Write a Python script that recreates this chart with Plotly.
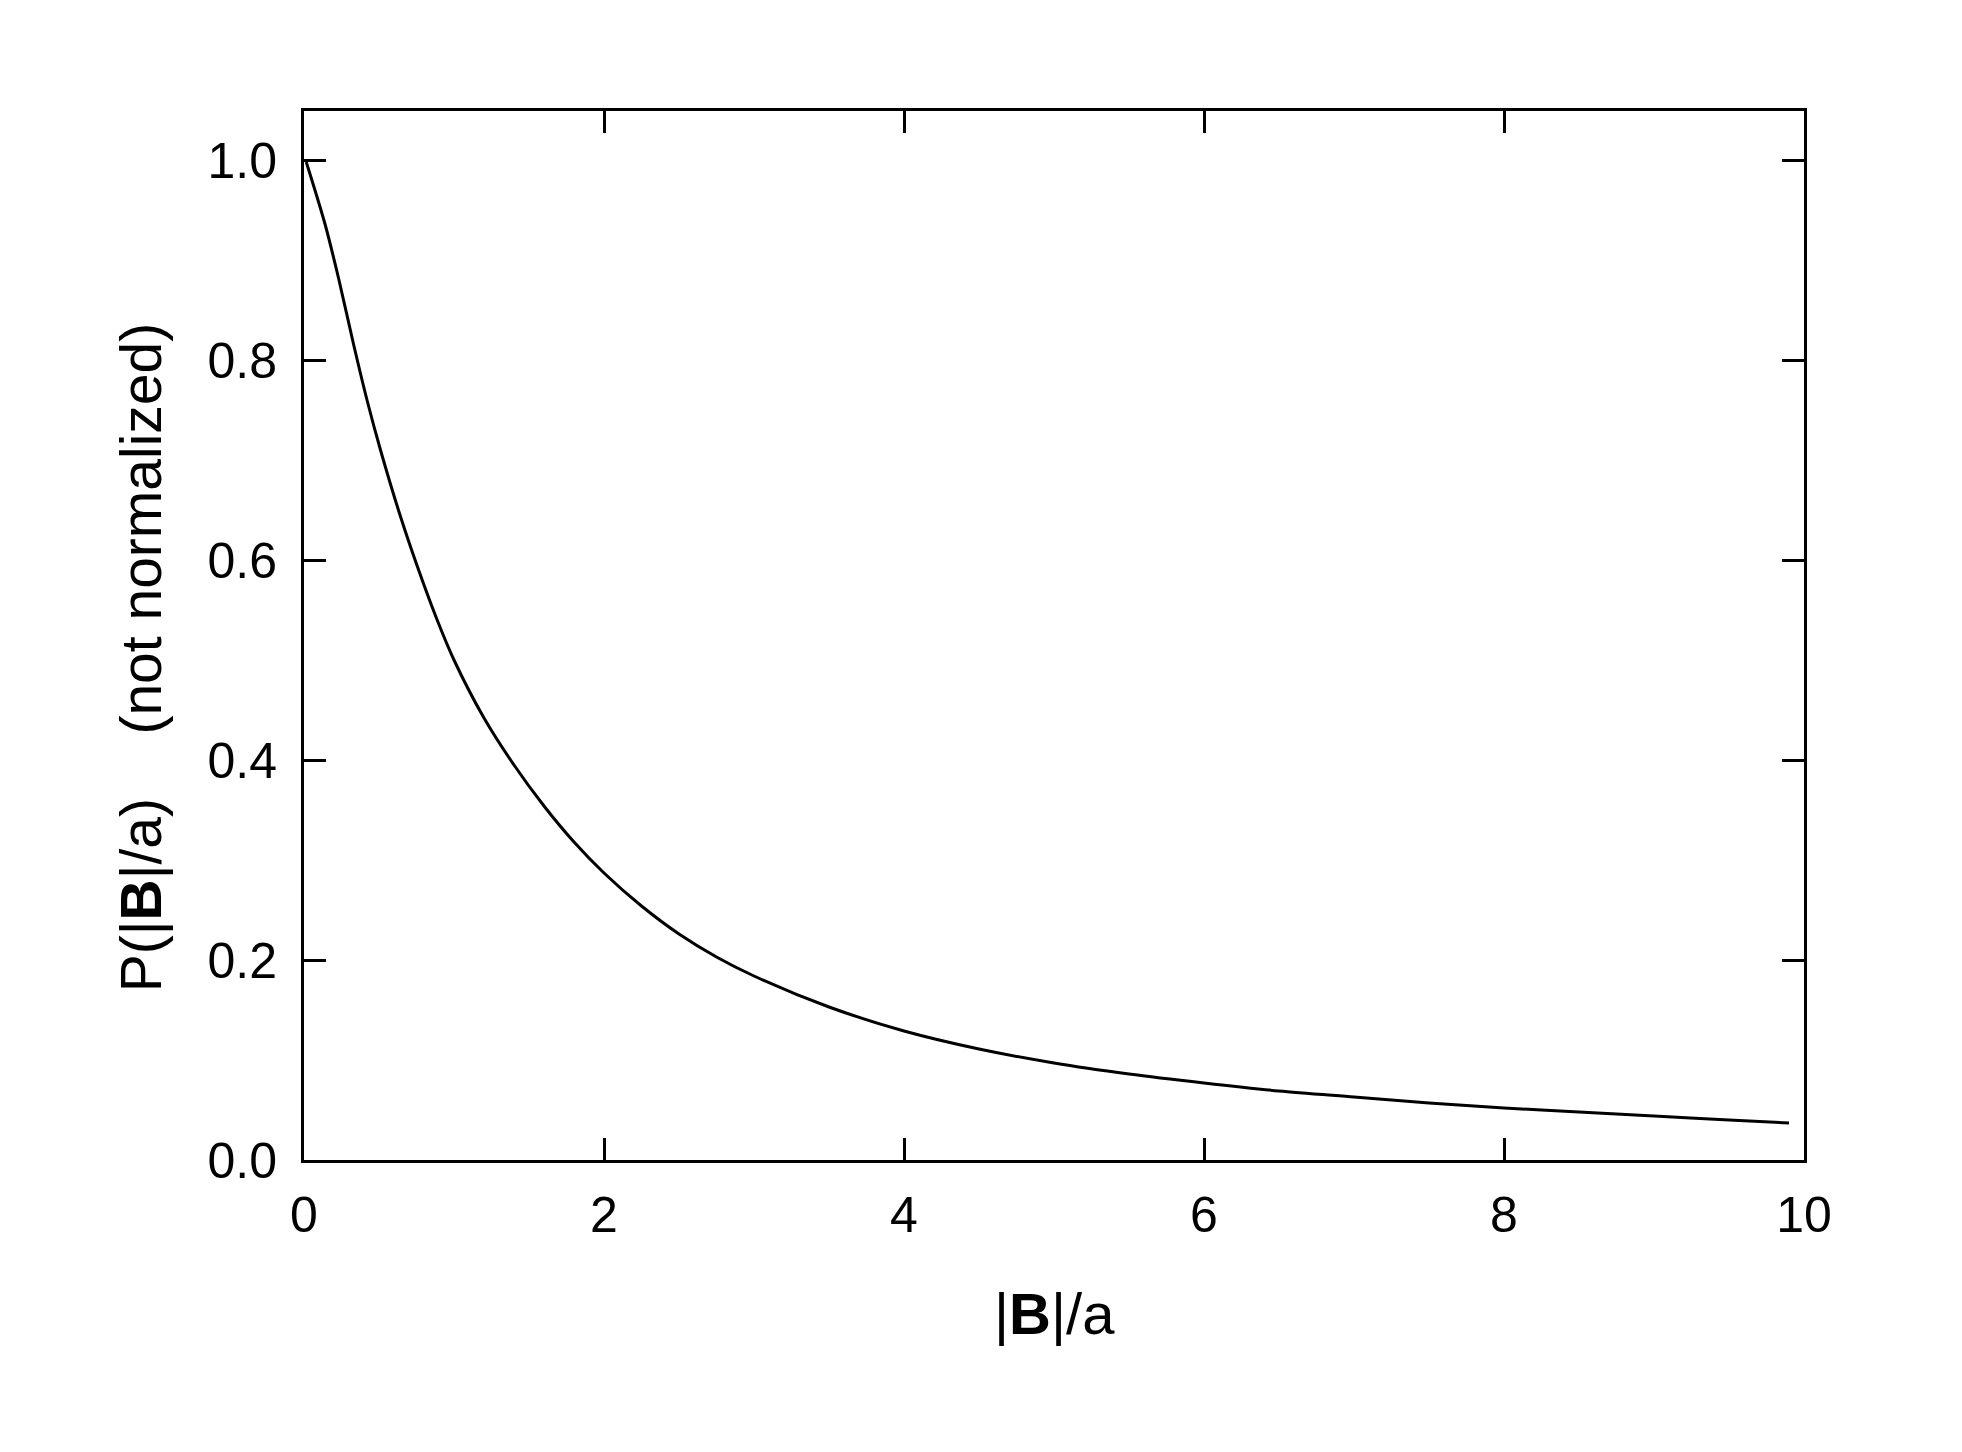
import plotly.graph_objects as go

# values
b_over_a = [0.015, 0.14, 0.23, 0.33, 0.42, 0.51, 0.64, 0.75, 0.88, 1.0, 1.2, 1.4,
            1.6, 1.8, 2.0, 2.25, 2.5, 2.75, 3.0, 3.5, 4.0, 4.5, 5.0, 5.5,
            6.0, 6.5, 7.0, 7.5, 8.0, 8.5, 9.0, 9.5, 9.9]
p_values = [0.998, 0.936, 0.882, 0.816, 0.760, 0.710, 0.645, 0.596, 0.543, 0.500, 0.442, 0.395,
            0.354, 0.318, 0.287, 0.254, 0.226, 0.203, 0.184, 0.153, 0.129, 0.111, 0.097, 0.086,
            0.077, 0.069, 0.063, 0.057, 0.052, 0.048, 0.044, 0.040, 0.037]

x_ticks = [0, 2, 4, 6, 8, 10]
y_ticks = [0.0, 0.2, 0.4, 0.6, 0.8, 1.0]
y_tick_labels = ["0.0", "0.2", "0.4", "0.6", "0.8", "1.0"]

FONT = "Liberation Sans, Arial, sans-serif"
SP = "\u00a0"

fig = go.Figure()
fig.add_trace(go.Scatter(
    x=b_over_a, y=p_values, mode="lines",
    line=dict(color="black", width=3, shape="spline", smoothing=0.8),
    showlegend=False, hoverinfo="skip",
))

axis_common = dict(
    showline=True, linecolor="black", linewidth=3, mirror="ticks",
    ticks="inside", ticklen=22, tickwidth=3, tickcolor="black",
    showgrid=False, zeroline=False,
    tickfont=dict(family=FONT, size=50, color="black"),
)

fig.update_layout(
    width=1954, height=1444,
    margin=dict(l=296, r=158, t=103, b=292),
    paper_bgcolor="white", plot_bgcolor="white",
    font=dict(family=FONT, color="black"),
    xaxis=dict(range=[0, 10], tickvals=x_ticks, ticktext=[str(v) for v in x_ticks],
               ticklabelstandoff=9, **axis_common),
    yaxis=dict(range=[0, 1.049], tickvals=y_ticks, ticktext=y_tick_labels,
               ticklabelstandoff=14, **axis_common),
    annotations=[
        dict(text="|<b>B</b>|/a", xref="paper", yref="paper", x=0.5, y=-0.1464,
             xanchor="center", yanchor="middle", showarrow=False,
             font=dict(family=FONT, size=58, color="black")),
        dict(text="P(|<b>B</b>|/a)" + SP * 4 + "(not normalized)",
             xref="paper", yref="paper", x=-0.1085, y=0.4795,
             xanchor="center", yanchor="middle", showarrow=False, textangle=-90,
             font=dict(family=FONT, size=57, color="black")),
    ],
)

fig.write_html("out.html")
